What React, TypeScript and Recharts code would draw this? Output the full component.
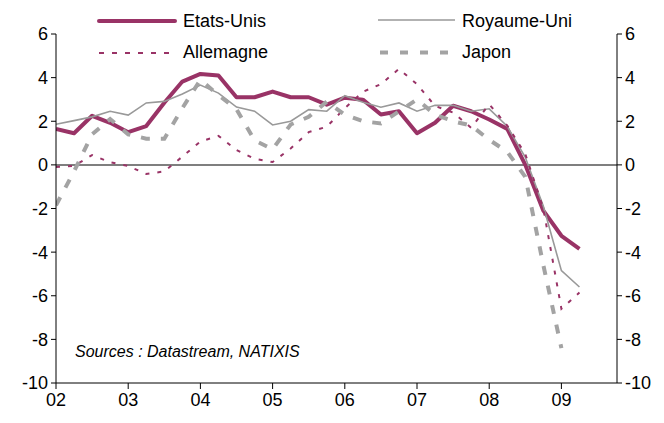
import React from 'react';
import { LineChart, Line, XAxis, YAxis, ReferenceLine } from 'recharts';

const periods = [
  '2002T1', '2002T2', '2002T3', '2002T4',
  '2003T1', '2003T2', '2003T3', '2003T4',
  '2004T1', '2004T2', '2004T3', '2004T4',
  '2005T1', '2005T2', '2005T3', '2005T4',
  '2006T1', '2006T2', '2006T3', '2006T4',
  '2007T1', '2007T2', '2007T3', '2007T4',
  '2008T1', '2008T2', '2008T3', '2008T4',
  '2009T1', '2009T2',
];

const etatsUnis = [
  1.65, 1.45, 2.25, 1.93, 1.5, 1.78, 2.85, 3.82, 4.17, 4.1,
  3.1, 3.1, 3.36, 3.1, 3.1, 2.76, 3.08, 2.99, 2.31, 2.46,
  1.45, 1.93, 2.71, 2.46, 2.08, 1.65, 0.0, -2.1, -3.25, -3.85,
];

const royaumeUni = [
  1.86, 2.03, 2.2, 2.46, 2.28, 2.84, 2.91, 3.25, 3.66, 3.29,
  2.65, 2.46, 1.83, 2.0, 2.53, 2.46, 3.17, 2.87, 2.64, 2.84,
  2.46, 2.73, 2.73, 2.46, 2.57, 1.77, 0.35, -1.9, -4.85, -5.6,
];

const allemagne = [
  -0.1, -0.05, 0.45, 0.12, -0.05, -0.42, -0.3, 0.38, 1.07, 1.33,
  0.68, 0.28, 0.13, 0.75, 1.5, 1.75, 2.6, 3.35, 3.7, 4.4,
  3.7, 2.7, 2.4, 1.7, 2.78, 1.8, 0.5, -2.0, -6.6, -5.85,
];

const japon: (number | null)[] = [
  -1.85, -0.3, 1.4, 2.1, 1.4, 1.2, 1.2, 2.6, 3.9, 3.2,
  2.55, 1.12, 0.72, 1.85, 2.2, 2.9, 2.3, 2.0, 1.9, 2.45,
  3.0, 2.3, 2.0, 1.8, 1.15, 0.6, -0.55, -4.6, -8.4, null,
];

const yearTicks = [2002, 2003, 2004, 2005, 2006, 2007, 2008, 2009];
const valueTicks = [-10, -8, -6, -4, -2, 0, 2, 4, 6];

const data = periods.map((p, i) => ({
  t: Number(p.slice(0, 4)) + (Number(p.slice(5)) - 1) / 4,
  us: etatsUnis[i],
  uk: royaumeUni[i],
  de: allemagne[i],
  jp: japon[i],
}));

const PURPLE = '#993366';
const GREY = '#999999';
const GREY_DASH = '#a3a3a3';
const FONT = '"Liberation Sans", Arial, sans-serif';

export default function App() {
  const tickStyle = { fill: '#000', fontSize: 18, fontFamily: FONT };
  return (
    <div style={{ position: 'absolute', left: 0, top: 0, width: 664, height: 423, background: '#fff', fontFamily: FONT }}>
      <LineChart width={664} height={423} data={data} margin={{ top: 34, right: 0, bottom: 0, left: 0 }}>
        <XAxis
          dataKey="t"
          type="number"
          domain={[2002, 2009.77]}
          ticks={yearTicks}
          interval={0}
          allowDataOverflow
          tickFormatter={(v: number) => String(v).slice(2)}
          height={40}
          tickSize={6}
          tickMargin={4}
          axisLine={{ stroke: '#000', strokeWidth: 1 }}
          tickLine={{ stroke: '#000', strokeWidth: 1 }}
          tick={tickStyle}
        />
        <YAxis
          yAxisId="left"
          domain={[-10, 6]}
          ticks={valueTicks}
          interval={0}
          allowDataOverflow
          width={56}
          tickSize={5}
          tickMargin={3}
          axisLine={{ stroke: '#000', strokeWidth: 1 }}
          tickLine={{ stroke: '#000', strokeWidth: 1 }}
          tick={tickStyle}
        />
        <YAxis
          yAxisId="right"
          orientation="right"
          domain={[-10, 6]}
          ticks={valueTicks}
          interval={0}
          allowDataOverflow
          width={47}
          tickSize={5}
          tickMargin={3}
          axisLine={{ stroke: '#000', strokeWidth: 1 }}
          tickLine={{ stroke: '#000', strokeWidth: 1 }}
          tick={tickStyle}
        />
        <ReferenceLine yAxisId="left" y={0} stroke="#555" strokeWidth={1.5} />
        <Line yAxisId="left" dataKey="us" stroke={PURPLE} strokeWidth={4} dot={false} strokeLinejoin="round" isAnimationActive={false} />
        <Line yAxisId="left" dataKey="uk" stroke={GREY} strokeWidth={1.6} dot={false} isAnimationActive={false} />
        <Line yAxisId="left" dataKey="de" stroke={PURPLE} strokeWidth={2} strokeDasharray="4 8" dot={false} isAnimationActive={false} />
        <Line yAxisId="left" dataKey="jp" stroke={GREY_DASH} strokeWidth={4} strokeDasharray="9 11" dot={false} isAnimationActive={false} />
      </LineChart>
      <svg width={664} height={423} style={{ position: 'absolute', left: 0, top: 0, pointerEvents: 'none' }}>
        <line x1={99} x2={175} y1={21} y2={21} stroke={PURPLE} strokeWidth={4} strokeLinecap="round" />
        <text x={183} y={27} fontSize={18} fontFamily={FONT} fill="#000">Etats-Unis</text>
        <line x1={378} x2={455} y1={20} y2={20} stroke={GREY} strokeWidth={1.6} />
        <text x={462} y={27} fontSize={18} fontFamily={FONT} fill="#000">Royaume-Uni</text>
        <line x1={99} x2={175} y1={53} y2={53} stroke={PURPLE} strokeWidth={2} strokeDasharray="5 8" />
        <text x={183} y={58} fontSize={18} fontFamily={FONT} fill="#000">Allemagne</text>
        <line x1={380} x2={453} y1={52.5} y2={52.5} stroke={GREY_DASH} strokeWidth={4} strokeDasharray="8 12" />
        <text x={462} y={58} fontSize={18} fontFamily={FONT} fill="#000">Japon</text>
        <text x={75} y={357} fontSize={16} fontStyle="italic" fontFamily={FONT} fill="#000">Sources : Datastream, NATIXIS</text>
      </svg>
    </div>
  );
}
